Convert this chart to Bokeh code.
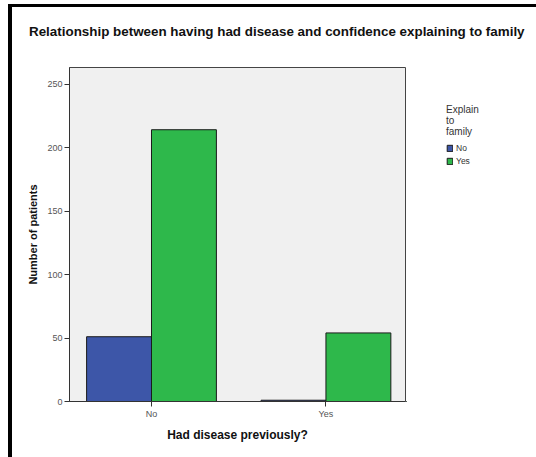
from bokeh.plotting import figure
from bokeh.models import Range1d, FixedTicker, Legend, LegendItem, ColumnDataSource, Div
from bokeh.layouts import column, row
from bokeh.embed import file_html
from bokeh.resources import INLINE

# ---- data ----
title_text = "Relationship between having had disease and confidence explaining to family"
categories = ["No", "Yes"]          # Had disease previously?
series_names = ["No", "Yes"]        # Explain to family
explain_no = [51, 1]
explain_yes = [214, 54]
y_ticks = [0, 50, 100, 150, 200, 250]
legend_title = "Explain\nto\nfamily"

colors = ["#3D56A8", "#2EB84B"]
idx = list(range(len(categories)))
bw = 0.372

title_div = Div(text=title_text, width=524, height=30,
                styles={"font-family": "'Liberation Sans'", "font-weight": "bold",
                        "font-size": "13.4px", "color": "#111111", "white-space": "nowrap",
                        "padding-left": "12px", "padding-top": "10px"})

p = figure(width=394, height=410, output_backend="svg", toolbar_location=None,
           x_range=Range1d(-0.47, 1.456), y_range=Range1d(0, 263),
           min_border_left=57, min_border_right=1, min_border_top=20, min_border_bottom=56)
p.background_fill_color = "#F0F0F0"
p.border_fill_color = "white"
p.outline_line_color = "#444444"
p.outline_line_width = 1
p.xgrid.visible = False
p.ygrid.visible = False

src_no = ColumnDataSource(dict(x=[i - bw / 2 for i in idx], top=explain_no))
src_yes = ColumnDataSource(dict(x=[i + bw / 2 for i in idx], top=explain_yes))
bar_kw = dict(width=bw, bottom=0, line_color="#1a1a1a", line_width=1)
p.vbar(x="x", top="top", source=src_no, fill_color=colors[0], **bar_kw)
p.vbar(x="x", top="top", source=src_yes, fill_color=colors[1], **bar_kw)

# axes
p.xaxis.ticker = FixedTicker(ticks=idx)
p.xaxis.major_label_overrides = {i: c for i, c in zip(idx, categories)}
p.yaxis.ticker = FixedTicker(ticks=y_ticks)
for ax in (p.xaxis[0], p.yaxis[0]):
    ax.major_tick_in = 0
    ax.major_tick_out = 5
    ax.minor_tick_line_color = None
    ax.axis_line_color = "#333333"
    ax.major_tick_line_color = "#333333"
    ax.major_label_text_font = "Liberation Sans"
    ax.major_label_text_font_size = "9px"
    ax.major_label_text_color = "#555555"
    ax.major_label_standoff = 2
    ax.axis_label_text_font = "Liberation Sans"
    ax.axis_label_text_font_style = "bold"
    ax.axis_label_text_color = "#111111"
p.xaxis.axis_label = "Had disease previously?"
p.xaxis.axis_label_text_font_size = "12px"
p.xaxis.axis_label_standoff = 6
p.yaxis.axis_label = "Number of patients"
p.yaxis.axis_label_text_font_size = "11px"
p.yaxis.axis_label_standoff = 5

# legend panel: same series, placed wholly outside its visible ranges, so only the legend shows
lp = figure(width=130, height=410, output_backend="svg", toolbar_location=None,
            x_range=Range1d(10, 11), y_range=Range1d(1000, 1001),
            x_axis_location=None, y_axis_location=None,
            min_border_left=0, min_border_right=0, min_border_top=0, min_border_bottom=0)
lp.outline_line_color = None
lp.background_fill_color = "white"
lp.xgrid.visible = False
lp.ygrid.visible = False
lr1 = lp.vbar(x="x", top="top", source=src_no, fill_color=colors[0], **bar_kw)
lr2 = lp.vbar(x="x", top="top", source=src_yes, fill_color=colors[1], **bar_kw)

legend = Legend(items=[LegendItem(label=series_names[0], renderers=[lr1]),
                       LegendItem(label=series_names[1], renderers=[lr2])],
                location=(40, 235), orientation="vertical",
                title=legend_title, title_standoff=6,
                title_text_font="Liberation Sans", title_text_font_size="10px",
                title_text_font_style="normal", title_text_color="#333333",
                glyph_width=7, glyph_height=8, label_height=9, label_width=10,
                spacing=3, padding=1, margin=0, label_standoff=3,
                label_text_font="Liberation Sans", label_text_font_size="8.5px",
                label_text_color="#333333",
                border_line_color=None, background_fill_alpha=0)
lp.add_layout(legend, "center")

layout = column(title_div, row(p, lp, spacing=0), spacing=0,
                styles={"margin-left": "8px", "margin-top": "4px",
                        "border-left": "4px solid black", "border-top": "3px solid black"})

open("out.html", "w").write(file_html(layout, INLINE))
